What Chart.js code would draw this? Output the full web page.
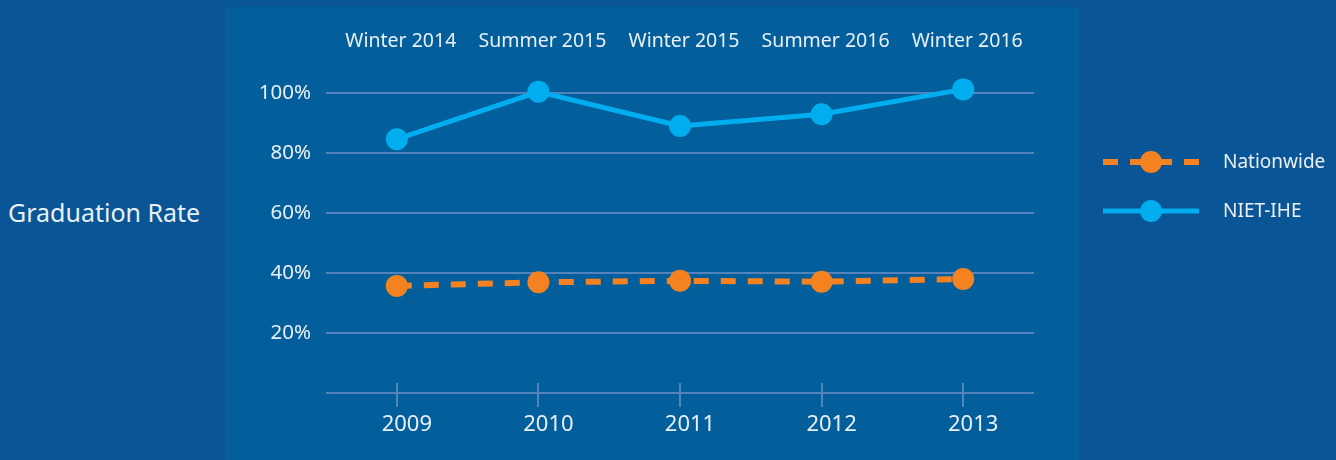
<!DOCTYPE html>
<html>
<head>
<meta charset="utf-8">
<script src="https://cdn.jsdelivr.net/npm/chart.js@4/dist/chart.umd.min.js"></script>
<style>
  html, body { margin: 0; padding: 0; }
  body {
    width: 1336px;
    height: 460px;
    background: #0a5595;
    position: relative;
    overflow: hidden;
    font-family: "Noto Sans", sans-serif;
    color: #e9f0f7;
  }
  .panel {
    position: absolute;
    left: 225px;
    top: 7px;
    width: 854px;
    height: 453px;
    background: #035e9c;
  }
  #wrap {
    position: absolute;
    left: 0;
    top: 0;
    width: 1336px;
    height: 460px;
  }
  .ytitle {
    position: absolute;
    left: 8px;
    top: 195px;
    font-size: 25px;
    line-height: 34px;
  }
  .legend {
    position: absolute;
    left: 1103px;
    top: 0;
  }
  .legend .item {
    position: absolute;
    left: 0;
    height: 24px;
    white-space: nowrap;
  }
  .legend svg { position: absolute; left: 0; top: 0; }
  .legend span {
    position: absolute;
    left: 120px;
    top: -1px;
    font-size: 19px;
    line-height: 24px;
  }
</style>
</head>
<body>
<div class="panel"></div>
<div class="ytitle">Graduation Rate</div>
<div id="wrap"><canvas id="chart"></canvas></div>
<div class="legend" id="legend"></div>
<script>
// years along the bottom, school terms along the top
const years = ['2009', '2010', '2011', '2012', '2013'];
const terms = ['Winter 2014', 'Summer 2015', 'Winter 2015', 'Summer 2016', 'Winter 2016'];

// graduation rate, percent
const nationwide = [35.7, 36.9, 37.4, 37.1, 38.0];
const nietIhe = [84.6, 100.4, 89.0, 92.9, 101.2];

const yTicks = [0, 20, 40, 60, 80, 100];

const orange = '#f58220';
const cyan = '#00aeef';
const gridColor = '#5383bc';
const textColor = '#e9f0f7';

// little tick stubs above the baseline, on the x scale ticks
const tickStubs = {
  id: 'tickStubs',
  beforeDatasetsDraw(chart) {
    const ctx = chart.ctx;
    const x = chart.scales.x;
    const bottom = chart.chartArea.bottom;
    ctx.save();
    ctx.strokeStyle = gridColor;
    ctx.lineWidth = 2;
    years.forEach((y, i) => {
      const px = Math.round(x.getPixelForTick(i));
      ctx.beginPath();
      ctx.moveTo(px, bottom - 10);
      ctx.lineTo(px, bottom);
      ctx.stroke();
    });
    ctx.restore();
  }
};

const series = [
  { label: 'Nationwide', data: nationwide, color: orange, dash: [15, 12], width: 6 },
  { label: 'NIET-IHE', data: nietIhe, color: cyan, dash: [], width: 5 }
];

new Chart(document.getElementById('chart'), {
  type: 'line',
  data: {
    labels: years,
    datasets: series.map(s => ({
      label: s.label,
      data: s.data,
      borderColor: s.color,
      backgroundColor: s.color,
      borderWidth: s.width,
      borderDash: s.dash,
      pointRadius: 11,
      pointHoverRadius: 11,
      pointBorderWidth: 0,
      tension: 0,
      clip: false,
      xAxisID: 'x'
    }))
  },
  options: {
    responsive: true,
    maintainAspectRatio: false,
    animation: false,
    events: [],
    layout: { padding: { left: 226, right: 302, top: 0, bottom: 0 } },
    plugins: {
      legend: { display: false },
      tooltip: { enabled: false }
    },
    scales: {
      x: {
        type: 'category',
        position: 'bottom',
        offset: true,
        border: { display: false },
        grid: {
          drawOnChartArea: false,
          drawTicks: true,
          tickLength: 14,
          color: gridColor,
          lineWidth: 2
        },
        ticks: {
          color: textColor,
          font: { family: 'Noto Sans', size: 22 },
          padding: 5,
          labelOffset: 10,
          maxRotation: 0
        },
        afterFit(scale) { scale.height = 67; }
      },
      x2: {
        type: 'category',
        position: 'top',
        labels: terms,
        offset: true,
        border: { display: false },
        grid: { display: false, drawTicks: false },
        ticks: {
          color: textColor,
          font: { family: 'Noto Sans', size: 19.5 },
          padding: 40,
          labelOffset: 4,
          maxRotation: 0
        },
        afterFit(scale) { scale.height = 93; }
      },
      y: {
        min: 0,
        max: 100,
        afterBuildTicks(scale) { scale.ticks = yTicks.map(v => ({ value: v })); },
        border: { display: false },
        grid: {
          color: gridColor,
          lineWidth: 2,
          drawTicks: false
        },
        ticks: {
          color: textColor,
          font: { family: 'Noto Sans', size: 20.5 },
          padding: 15,
          callback: v => v === 0 ? '' : v + '%'
        },
        afterFit(scale) { scale.width = 100; }
      }
    }
  },
  plugins: [tickStubs]
});

// legend: line sample with a dot, then the name
const legend = document.getElementById('legend');
const legendRows = [162, 211];
series.forEach((s, i) => {
  const item = document.createElement('div');
  item.className = 'item';
  item.style.top = (legendRows[i] - 12) + 'px';
  const dash = s.dash.length ? ' stroke-dasharray="15 12"' : '';
  item.innerHTML =
    '<svg width="96" height="24"><line x1="0" y1="12" x2="96" y2="12" stroke="' + s.color +
    '" stroke-width="' + s.width + '"' + dash + '/><circle cx="48" cy="12" r="11" fill="' + s.color + '"/></svg>' +
    '<span>' + s.label + '</span>';
  legend.appendChild(item);
});
</script>
</body>
</html>
